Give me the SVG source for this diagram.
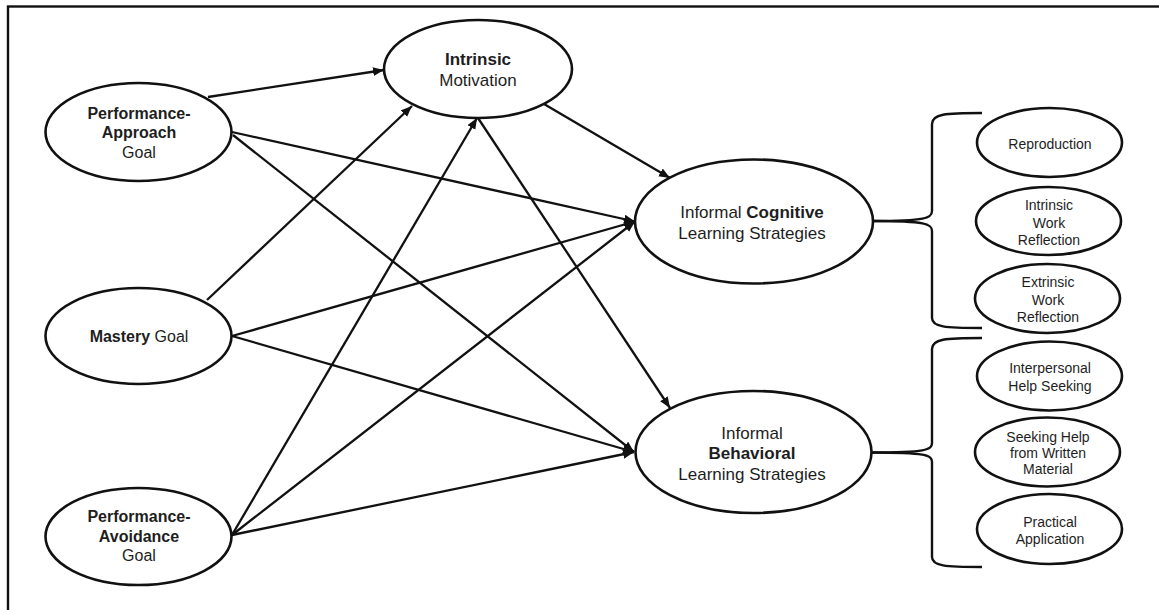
<svg xmlns="http://www.w3.org/2000/svg" width="1159" height="610" viewBox="0 0 1159 610">
  <defs>
    <marker id="arrow" markerUnits="userSpaceOnUse" markerWidth="12" markerHeight="10" refX="11" refY="4.5" orient="auto">
      <path d="M0,0 L11,4.5 L0,9 Z" fill="#111"/>
    </marker>
    <style>
      .node { fill: #fff; stroke: #111; stroke-width: 2.6; }
      .edge { stroke: #111; stroke-width: 2.3; fill: none; marker-end: url(#arrow); }
      .brace { stroke: #111; stroke-width: 2.4; fill: none; }
      text { font-family: "Liberation Sans", Arial, sans-serif; fill: #1e1e1e; text-anchor: middle; }
      .lg { font-size: 16px; }
      .md { font-size: 17px; }
      .sm { font-size: 14px; }
      .b { font-weight: bold; }
    </style>
  </defs>

  <rect width="1159" height="610" fill="#fff"/>
  <!-- frame (right and bottom edges fall outside the canvas) -->
  <rect x="8" y="6.5" width="1200" height="700" fill="none" stroke="#111" stroke-width="2.4"/>

  <g id="connectors">
    <line class="edge" x1="208" y1="97" x2="384" y2="70"/>
    <line class="edge" x1="232" y1="132" x2="635" y2="221.5"/>
    <line class="edge" x1="233" y1="135" x2="634" y2="452"/>
    <line class="edge" x1="207" y1="300" x2="412" y2="106"/>
    <line class="edge" x1="232" y1="336" x2="635" y2="221.5"/>
    <line class="edge" x1="232" y1="336" x2="634" y2="452"/>
    <line class="edge" x1="232" y1="535" x2="477" y2="118"/>
    <line class="edge" x1="232" y1="535" x2="635" y2="221.5"/>
    <line class="edge" x1="232" y1="535" x2="634" y2="452"/>
    <line class="edge" x1="544" y1="104" x2="670" y2="178"/>
    <line class="edge" x1="478" y1="118" x2="670" y2="408"/>
    <!-- braces grouping the indicator variables -->
    <path class="brace" d="M982,113 C945,113 932,114 932,124 L932,211 C932,218 926,221 873,221"/>
    <path class="brace" d="M873,221 C926,221 932,224 932,231 L932,318 C932,327 945,328 982,328"/>
    <path class="brace" d="M982,338 C945,338 932,339 932,349 L932,443 C932,450 926,452.5 871,452.5"/>
    <path class="brace" d="M871,452.5 C926,452.5 932,455 932,462 L932,557 C932,566 945,567 982,567"/>
  </g>

  <g id="performance-approach">
    <ellipse class="node" cx="138.5" cy="132" rx="93" ry="49"/>
    <text class="lg b" x="139" y="119">Performance-</text>
    <text class="lg b" x="139" y="138">Approach</text>
    <text class="lg" x="139" y="158">Goal</text>
  </g>

  <g id="mastery">
    <ellipse class="node" cx="138.5" cy="336" rx="93" ry="48"/>
    <text class="lg" x="139" y="342"><tspan class="b">Mastery</tspan> Goal</text>
  </g>

  <g id="performance-avoidance">
    <ellipse class="node" cx="138.5" cy="536.5" rx="93" ry="48.5"/>
    <text class="lg b" x="139" y="522">Performance-</text>
    <text class="lg b" x="139" y="542">Avoidance</text>
    <text class="lg" x="139" y="561">Goal</text>
  </g>

  <g id="intrinsic-motivation">
    <ellipse class="node" cx="478" cy="69" rx="94" ry="49"/>
    <text class="md b" x="478" y="65">Intrinsic</text>
    <text class="md" x="478" y="86">Motivation</text>
  </g>

  <g id="cognitive">
    <ellipse class="node" cx="754" cy="221.5" rx="119" ry="62"/>
    <text class="md" x="752" y="217.5">Informal <tspan class="b">Cognitive</tspan></text>
    <text class="md" x="752" y="238.5">Learning Strategies</text>
  </g>

  <g id="behavioral">
    <ellipse class="node" cx="753.5" cy="452" rx="118" ry="61"/>
    <text class="md" x="752" y="438.5">Informal</text>
    <text class="md b" x="752" y="459">Behavioral</text>
    <text class="md" x="752" y="480">Learning Strategies</text>
  </g>

  <g id="reproduction">
    <ellipse class="node" cx="1049.5" cy="142.5" rx="72.5" ry="34.5"/>
    <text class="sm" x="1050" y="149">Reproduction</text>
  </g>

  <g id="intrinsic-work-reflection">
    <ellipse class="node" cx="1048.5" cy="221" rx="72.5" ry="34"/>
    <text class="sm" x="1049" y="210">Intrinsic</text>
    <text class="sm" x="1049" y="227.5">Work</text>
    <text class="sm" x="1049" y="245">Reflection</text>
  </g>

  <g id="extrinsic-work-reflection">
    <ellipse class="node" cx="1047.5" cy="298.5" rx="72.5" ry="34.5"/>
    <text class="sm" x="1048" y="287">Extrinsic</text>
    <text class="sm" x="1048" y="305">Work</text>
    <text class="sm" x="1048" y="321.5">Reflection</text>
  </g>

  <g id="interpersonal-help-seeking">
    <ellipse class="node" cx="1049.5" cy="376" rx="72.5" ry="34.5"/>
    <text class="sm" x="1050" y="373">Interpersonal</text>
    <text class="sm" x="1050" y="390.5">Help Seeking</text>
  </g>

  <g id="written-material">
    <ellipse class="node" cx="1047.5" cy="452" rx="72.5" ry="34.5"/>
    <text class="sm" x="1048" y="442">Seeking Help</text>
    <text class="sm" x="1048" y="458">from Written</text>
    <text class="sm" x="1048" y="474">Material</text>
  </g>

  <g id="practical-application">
    <ellipse class="node" cx="1049.5" cy="529" rx="72.5" ry="35"/>
    <text class="sm" x="1050" y="526.5">Practical</text>
    <text class="sm" x="1050" y="544">Application</text>
  </g>
</svg>
